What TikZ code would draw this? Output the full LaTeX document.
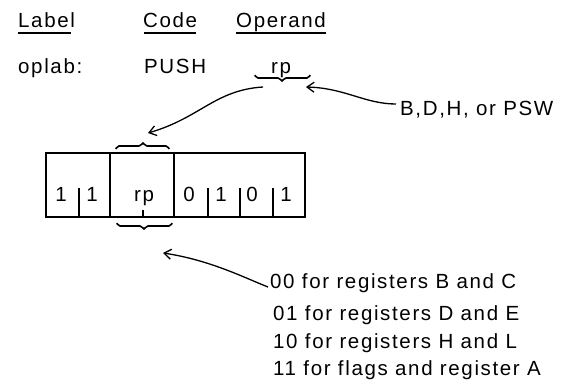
\documentclass[tikz,border=0pt]{standalone}
\usepackage{fontspec}
\setmainfont{Liberation Sans}[LetterSpace=8]
\usetikzlibrary{arrows.meta}
\begin{document}
\begin{tikzpicture}[x=1pt,y=-1pt,
  txt/.style={inner sep=0pt,font=\fontsize{20.5}{24}\selectfont},
  wide/.style={line width=2.4pt},
  thin/.style={line width=1.4pt},
  arr/.style={line width=1.3pt,-{Straight Barb[length=7pt,width=10pt,line width=1.3pt]}},
  brc/.style={line width=1.6pt,rounded corners=2pt}]
\useasboundingbox (0,0) rectangle (567,391);
% headings
\node[txt,anchor=base west] (lab) at (18,27) {Label};
\node[txt,anchor=base west] (code) at (143,27) {Code};
\node[txt,anchor=base west] (opd) at (236,27) {Operand};
\draw[thin] (18,33) -- (71,33);
\draw[thin] (144,33) -- (196,33);
\draw[thin] (236,33) -- (326,33);
\node[txt,anchor=base west] (oplab) at (18,73) {oplab:};
\node[txt,anchor=base west] (push) at (144,73) {PUSH};
\node[txt,anchor=base west] (rp) at (271,73) {rp};
% brace under rp
\draw[brc] (255,75) -- (256,78) -- (280,78) -- (282,82) -- (284,78) -- (309,78) -- (310,75);
\coordinate (s1) at (263,87);
\coordinate (t1) at (148,133);
\draw[arr] (s1) .. controls (215,90) and (200,118) .. (t1);
% B,D,H label
\node[txt,anchor=base west] (bdh) at (400,115) {B,D,H, or PSW};
\coordinate (s2) at (396,104);
\coordinate (t2) at (306,87);
\draw[arr] (s2) .. controls (365,104) and (345,88) .. (t2);
% box
\draw[wide] (46,153) rectangle (305,217);
\draw[wide] (110,153) -- (110,217);
\draw[wide] (174,153) -- (174,217);
\foreach \x in {79,208,240,273} \draw[wide] (\x,188) -- (\x,217);
\draw[wide] (143,210) -- (143,217);
% top brace over rp field
\draw[brc] (116,149) -- (117,146) -- (141,146) -- (143,142) -- (145,146) -- (168,146) -- (169,149);
% bottom brace
\draw[brc] (117,223) -- (118,226) -- (142,226) -- (144,230) -- (146,226) -- (171,226) -- (172,223);
% digits
\node[txt,anchor=base] (b7) at (61,201) {1};
\node[txt,anchor=base] (b6) at (92,201) {1};
\node[txt,anchor=base] (brp) at (144,201) {rp};
\node[txt,anchor=base] (b3) at (189,201) {0};
\node[txt,anchor=base] (b2) at (221,201) {1};
\node[txt,anchor=base] (b1) at (252,201) {0};
\node[txt,anchor=base] (b0) at (286,201) {1};
% codes
\node[txt,anchor=base west] (c0) at (270,288) {00 for registers B and C};
\node[txt,anchor=base west] (c1) at (273,320) {01 for registers D and E};
\node[txt,anchor=base west] (c2) at (273,348) {10 for registers H and L};
\node[txt,anchor=base west] (c3) at (273,375) {11 for flags and register A};
\coordinate (s3) at (268,287);
\coordinate (t3) at (163,253);
\draw[arr] (s3) .. controls (245,278) and (210,260) .. (t3);
\end{tikzpicture}
\end{document}
